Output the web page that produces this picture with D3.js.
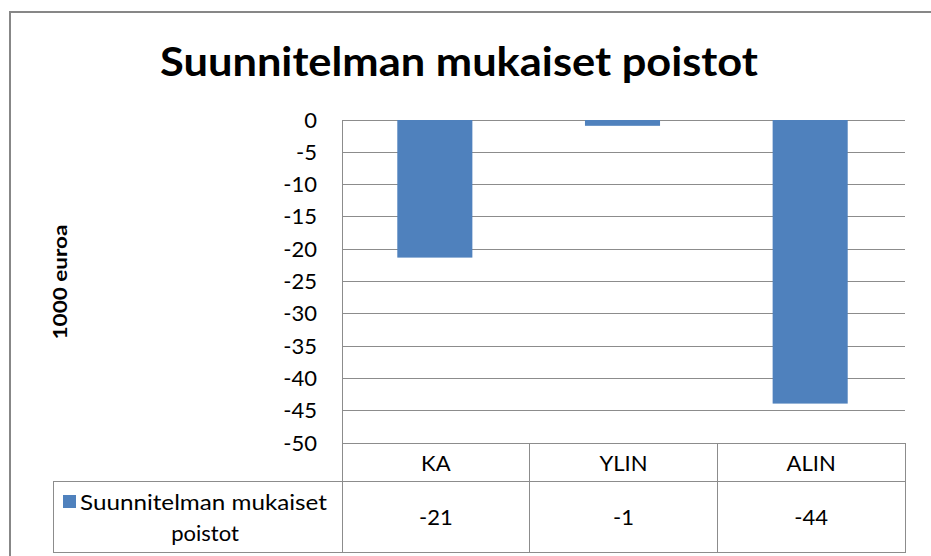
<!DOCTYPE html>
<html>
<head>
<meta charset="utf-8">
<script src="https://cdn.jsdelivr.net/npm/d3@7"></script>
<style>
  html, body { margin: 0; padding: 0; background: #fff; }
  svg { display: block; font-family: Lato, "Open Sans", sans-serif; }
</style>
</head>
<body>
<div id="chart"></div>
<script>
// data
var categories = ["KA", "YLIN", "ALIN"];
var values = [-21.3, -0.9, -43.9];
var yTicks = [0, -5, -10, -15, -20, -25, -30, -35, -40, -45, -50];
var seriesName = "Suunnitelman mukaiset poistot";
var title = "Suunnitelman mukaiset poistot";
var yTitle = "1000 euroa";

var W = 931, H = 556;
var m = {t: 120, r: 26, b: 113, l: 342}; // plot area 342..905, 120..443
var fs = '22px';

var svg = d3.select('#chart')
    .append('svg')
    .attr('width', W)
    .attr('height', H);

// outer chart border (only top and left show in the crop)
svg.append('rect')
    .attr('x', 10).attr('y', 12)
    .attr('width', W + 20).attr('height', H + 20)
    .style('fill', 'none')
    .style('stroke', '#878787')
    .style('stroke-width', 2);

// title
svg.append('text')
    .attr('x', 459).attr('y', 76)
    .attr('text-anchor', 'middle')
    .attr('textLength', 598)
    .attr('lengthAdjust', 'spacingAndGlyphs')
    .style('font-size', '40px')
    .style('font-weight', 'bold')
    .style('fill', '#000')
    .text(title);

var x = d3.scaleBand()
    .domain(categories)
    .range([m.l, W - m.r])
    .padding(0);

var y = d3.scaleLinear()
    .domain([-50, 0])
    .range([H - m.b, m.t]);

// gridlines
svg.append('g').selectAll('line.grid')
    .data(yTicks)
    .enter()
    .append('line').attr('class', 'grid')
    .attr('x1', m.l).attr('x2', W - m.r)
    .attr('y1', function(d){ return y(d); })
    .attr('y2', function(d){ return y(d); })
    .style('stroke', '#8c8c8c')
    .style('stroke-width', 1)
    .attr('shape-rendering', 'crispEdges');

// y axis labels
var yAxis = d3.axisLeft(y)
    .tickValues(yTicks)
    .tickSize(0)
    .tickPadding(25)
    .tickFormat(function(d){ return String(d); });

var gy = svg.append('g')
    .attr('transform', 'translate(' + m.l + ',0)')
    .call(yAxis);
gy.select('.domain').remove();
gy.selectAll('text')
    .style('font-family', 'Lato, "Open Sans", sans-serif')
    .style('font-size', fs)
    .style('fill', '#000');

// bars
var barW = x.bandwidth() * 0.4;
svg.append('g').selectAll('rect.bar')
    .data(values)
    .enter()
    .append('rect').attr('class', 'bar')
    .attr('x', function(d, i){ return x(categories[i]) + (x.bandwidth() - barW) / 2 - 1; })
    .attr('y', y(0))
    .attr('width', barW)
    .attr('height', function(d){ return y(d) - y(0); })
    .style('fill', '#4f81bd');

// data table
var tableTop = y(-50), rowDiv = 481.5, tableBot = 552.5, legLeft = 53;
var tbl = svg.append('g')
    .style('stroke', '#8c8c8c')
    .style('stroke-width', 1)
    .attr('shape-rendering', 'crispEdges');

// vertical axis line continues through table
tbl.append('line')
    .attr('x1', m.l).attr('x2', m.l)
    .attr('y1', m.t).attr('y2', tableBot);
// column dividers
tbl.selectAll('line.col')
    .data(categories)
    .enter()
    .append('line').attr('class', 'col')
    .attr('x1', function(d){ return x(d) + x.bandwidth(); })
    .attr('x2', function(d){ return x(d) + x.bandwidth(); })
    .attr('y1', tableTop).attr('y2', tableBot);
// horizontal rules
tbl.append('line')
    .attr('x1', legLeft).attr('x2', W - m.r)
    .attr('y1', rowDiv).attr('y2', rowDiv);
tbl.append('line')
    .attr('x1', legLeft).attr('x2', W - m.r)
    .attr('y1', tableBot).attr('y2', tableBot);
tbl.append('line')
    .attr('x1', legLeft).attr('x2', legLeft)
    .attr('y1', rowDiv).attr('y2', tableBot);

// category headers
svg.append('g').selectAll('text.cat')
    .data(categories)
    .enter()
    .append('text').attr('class', 'cat')
    .attr('x', function(d){ return x(d) + x.bandwidth() / 2; })
    .attr('y', 471)
    .attr('text-anchor', 'middle')
    .style('font-size', fs)
    .style('fill', '#000')
    .text(function(d){ return d; });

// values row
svg.append('g').selectAll('text.val')
    .data(values)
    .enter()
    .append('text').attr('class', 'val')
    .attr('x', function(d, i){ return x(categories[i]) + x.bandwidth() / 2; })
    .attr('y', 525)
    .attr('text-anchor', 'middle')
    .style('font-size', fs)
    .style('fill', '#000')
    .text(function(d){ return String(Math.round(d)); });

// legend key + series name
svg.append('rect')
    .attr('x', 63).attr('y', 495)
    .attr('width', 13).attr('height', 13)
    .style('fill', '#4f81bd');
var words = seriesName.split(' ');
svg.append('text')
    .attr('x', 80).attr('y', 510)
    .attr('textLength', 247)
    .attr('lengthAdjust', 'spacingAndGlyphs')
    .style('font-size', fs)
    .style('fill', '#000')
    .text(words.slice(0, 2).join(' '));
svg.append('text')
    .attr('x', 205).attr('y', 541)
    .attr('text-anchor', 'middle')
    .style('font-size', fs)
    .style('fill', '#000')
    .text(words.slice(2).join(' '));

// y axis title
svg.append('text')
    .attr('transform', 'translate(67,282) rotate(-90)')
    .attr('text-anchor', 'middle')
    .attr('textLength', 115)
    .attr('lengthAdjust', 'spacingAndGlyphs')
    .style('font-size', '19px')
    .style('font-weight', 'bold')
    .style('fill', '#000')
    .text(yTitle);
</script>
</body>
</html>
